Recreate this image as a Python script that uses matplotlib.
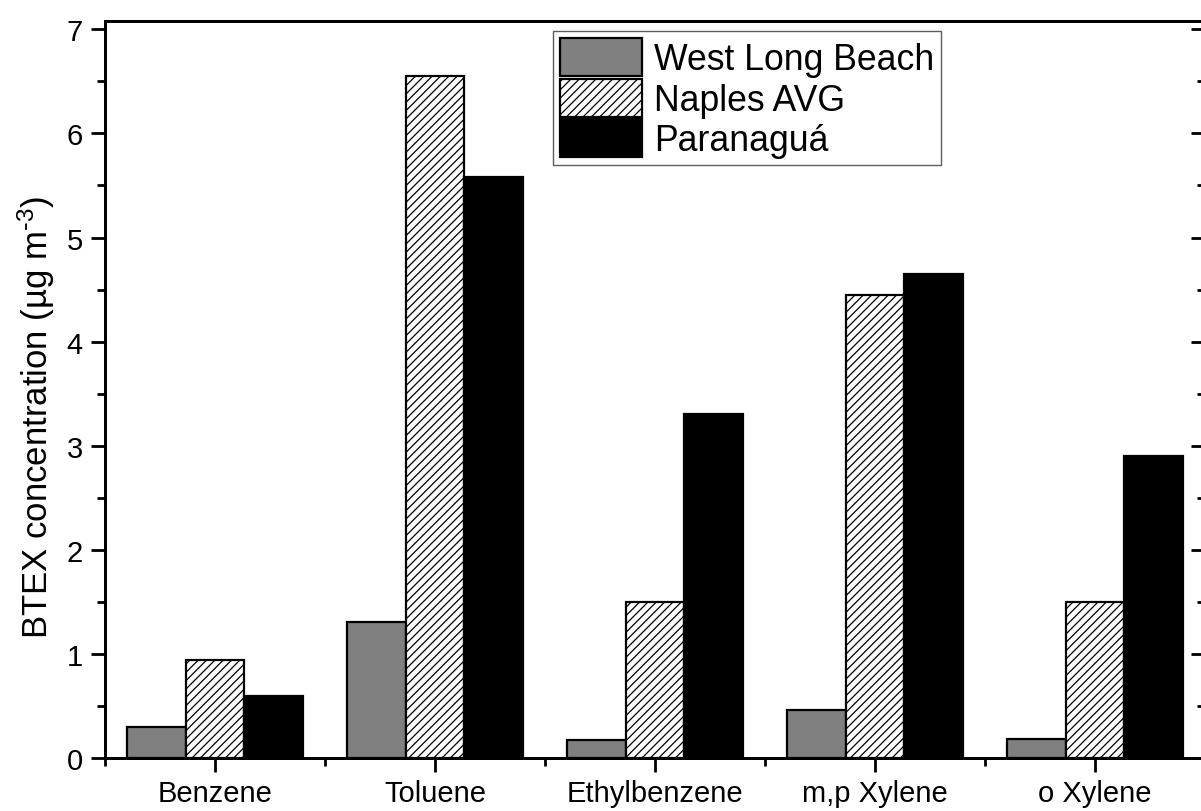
import matplotlib
matplotlib.use("Agg")
import matplotlib.pyplot as plt
import numpy as np
from matplotlib.ticker import MultipleLocator

# ── Data ──────────────────────────────────────────────────────────────────────
compounds  = ["Benzene", "Toluene", "Ethylbenzene", "m,p Xylene", "o Xylene"]
west_lb    = [0.30, 1.31, 0.17, 0.46, 0.18]
naples_avg = [0.94, 6.55, 1.50, 4.45, 1.50]
paranagua  = [0.60, 5.58, 3.30, 4.65, 2.90]
series_labels = ["West Long Beach", "Naples AVG", "Paranaguá"]

# ── Style ─────────────────────────────────────────────────────────────────────
plt.rcParams["font.family"] = ["Liberation Sans", "DejaVu Sans"]
plt.rcParams["mathtext.default"] = "regular"
plt.rcParams["hatch.linewidth"] = 0.9

fig = plt.figure(figsize=(12.01, 8.12), dpi=100)
ax = fig.add_axes([105 / 1201, 1 - 759 / 812, 1100 / 1201, 737 / 812])

x = np.arange(len(compounds))
w = 0.268
ax.bar(x - w, west_lb, w, color="#808080", edgecolor="black", linewidth=1.6,
       label=series_labels[0], zorder=3)
ax.bar(x, naples_avg, w, color="white", edgecolor="black", linewidth=1.6,
       hatch="////", label=series_labels[1], zorder=3)
ax.bar(x + w, paranagua, w, color="black", edgecolor="black", linewidth=1.6,
       label=series_labels[2], zorder=3)

ax.set_xlim(-0.5, len(compounds) - 0.5)
ax.set_ylim(0, 7.08)
ax.set_xticks(x)
ax.set_xticklabels(compounds)
ax.xaxis.set_minor_locator(MultipleLocator(1, offset=0.5))
ax.yaxis.set_major_locator(MultipleLocator(1))
ax.yaxis.set_minor_locator(MultipleLocator(0.5))
ax.tick_params(axis="both", which="major", length=10, width=2, direction="out",
               labelsize=21)
ax.tick_params(axis="both", which="minor", length=6, width=2, direction="out")
ax.tick_params(axis="x", pad=5)
ax.tick_params(axis="y", pad=6)

for sp in ax.spines.values():
    sp.set_linewidth(2)

# right axis: inward ticks, no labels
ax2 = ax.twinx()
ax2.set_ylim(ax.get_ylim())
ax2.yaxis.set_major_locator(MultipleLocator(1))
ax2.yaxis.set_minor_locator(MultipleLocator(0.5))
ax2.tick_params(axis="y", which="major", direction="in", length=10, width=2,
                labelright=False)
ax2.tick_params(axis="y", which="minor", direction="in", length=6, width=2)
for sp in ax2.spines.values():
    sp.set_linewidth(2)

ax.set_ylabel(r"BTEX concentration (µg m$^{\text{-}3}$)", fontsize=25)
ax.yaxis.set_label_coords(-0.044, 0.463)

leg = ax.legend(loc="upper left", bbox_to_anchor=(553 / 1201, 1 - 32 / 812),
                bbox_transform=fig.transFigure, borderaxespad=0, fontsize=25.7,
                handlelength=2.3, handleheight=1.25, handletextpad=0.33,
                labelspacing=0.05, borderpad=0.2, fancybox=False)
leg.get_frame().set_edgecolor("#333333")
leg.get_frame().set_linewidth(1.0)

fig.savefig("out.png", dpi=100, facecolor="white")
